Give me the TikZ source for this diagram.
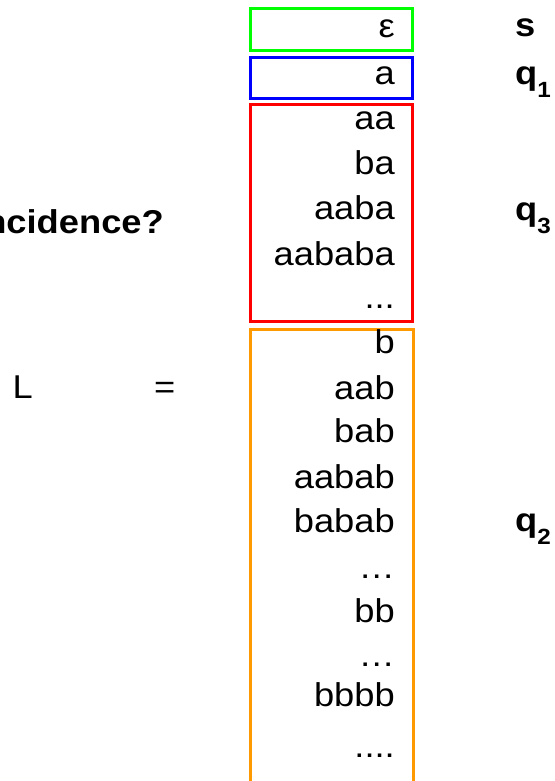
\documentclass[tikz,border=0pt]{standalone}
\usepackage{fontspec}
\usepackage{graphicx}
\setmainfont{Liberation Sans}
\definecolor{boxgreen}{RGB}{0,255,0}
\definecolor{boxblue}{RGB}{0,0,255}
\definecolor{boxred}{RGB}{255,0,0}
\definecolor{boxorange}{RGB}{255,153,0}
\newcommand{\sx}[1]{\scalebox{1.1}[1]{#1}}
\newcommand{\qsub}[2]{\sx{\textbf{#1}\raisebox{-13pt}{\fontsize{22}{22}\selectfont\textbf{#2}}}}
\begin{document}
\begin{tikzpicture}[x=1pt,y=-1pt,
  word/.style={inner sep=0pt, anchor=base east, font=\fontsize{33}{40}\selectfont},
  side/.style={inner sep=0pt, anchor=base west, font=\fontsize{33}{40}\selectfont},
  classbox/.style={line width=3pt}]
\useasboundingbox (0,0) rectangle (554,781);
\clip (0,0) rectangle (554,781);

% class boxes
\draw[classbox, boxgreen]  (250.5,8.8)   rectangle (412.5,50.8);
\draw[classbox, boxblue]   (250.5,57.5)  rectangle (412.5,98.5);
\draw[classbox, boxred]    (250.5,105)   rectangle (412.5,321.8);
\draw[classbox, boxorange] (250.5,329)   rectangle (413,800);

% words
\node[word] (w1)  at (395,38)  {\sx{ε}};
\node[word] (w2)  at (395,85)  {\sx{a}};
\node[word] (w3)  at (395,129) {\sx{aa}};
\node[word] (w4)  at (395,174) {\sx{ba}};
\node[word] (w5)  at (395,219) {\sx{aaba}};
\node[word] (w6)  at (395,265) {\sx{aababa}};
\node[word] (w7)  at (395,308) {\sx{...}};
\node[word] (w8)  at (395,353) {\sx{b}};
\node[word] (w9)  at (395,399) {\sx{aab}};
\node[word] (w10) at (395,442) {\sx{bab}};
\node[word] (w11) at (395,488) {\sx{aabab}};
\node[word] (w12) at (395,532) {\sx{babab}};
\node[word] (w13) at (395,578) {\sx{…}};
\node[word] (w14) at (395,622) {\sx{bb}};
\node[word] (w15) at (395,666) {\sx{…}};
\node[word] (w16) at (395,706) {\sx{bbbb}};
\node[word] (w17) at (395,757) {\sx{....}};

% state labels
\node[side] (s)  at (515,37)  {\sx{\textbf{s}}};
\node[side] (q1) at (515,85)  {\qsub{q}{1}};
\node[side] (q3) at (515,220) {\qsub{q}{3}};
\node[side] (q2) at (515,531) {\qsub{q}{2}};

% left texts
\node[word] (coin) at (164,233) {\sx{\textbf{Coincidence?}}};
\node[side] (L)  at (12.5,398) {\sx{L}};
\node[side] (eq) at (154,398) {\sx{=}};
\end{tikzpicture}
\end{document}
